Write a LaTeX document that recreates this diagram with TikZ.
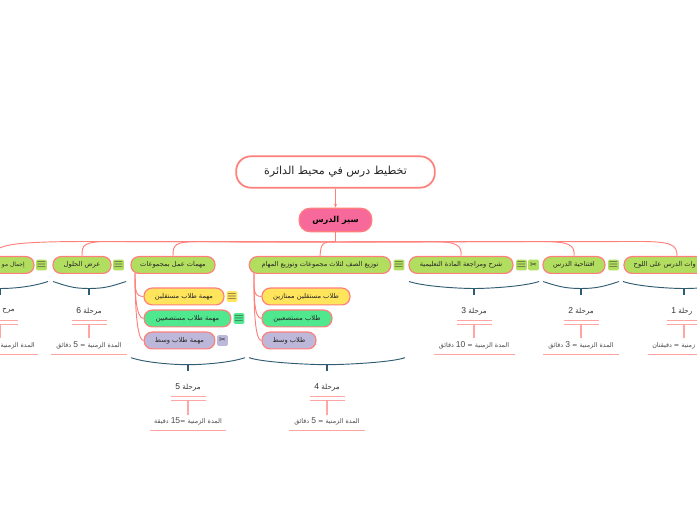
\documentclass[tikz,border=0pt]{standalone}
\usepackage{fontspec}
\setmainfont{Liberation Sans}
\newfontfamily\arabicfont[Script=Arabic]{DejaVu Sans}
\newfontfamily\symfont{DejaVu Sans}
\TeXXeTstate=1
\usepackage{tikz}
\usetikzlibrary{arrows.meta, positioning}
\definecolor{linered}{HTML}{FF7F7B}
\definecolor{softred}{HTML}{FFA5A2}
\definecolor{stemblue}{HTML}{2F5C73}
\definecolor{leafgreen}{HTML}{B2DE60}
\definecolor{lessonpink}{HTML}{F8699B}
\definecolor{iconyellow}{HTML}{FFE45C}
\definecolor{iconmint}{HTML}{4FE88F}
\definecolor{iconlilac}{HTML}{BDB8DA}
\newcommand{\ar}[1]{{\arabicfont\beginR #1\endR}}
\newcommand{\nm}[1]{\beginL{\rmfamily\fontsize{6.4}{7}\selectfont #1}\endL}
\newcommand{\cut}{{\symfont\fontsize{6}{6}\selectfont ✂}}
\tikzset{
  box/.style={draw=linered, line width=0.9pt, rounded corners=6pt, minimum height=12.6pt, inner sep=0pt, font=\fontsize{5}{6}\selectfont, text=black!85},
  task/.style={box, fill=leafgreen},
  ylw/.style={box, fill=iconyellow},
  mnt/.style={box, fill=iconmint},
  lil/.style={box, fill=iconlilac},
  icon/.style={minimum size=8pt, inner sep=0pt, rounded corners=1pt, font=\fontsize{9}{9}\selectfont, text=black!80},
  link/.style={draw=linered, line width=0.7pt},
  lab/.style={inner sep=0pt, font=\fontsize{5}{6}\selectfont, text=black!85},
  stage/.style={inner sep=0pt, font=\fontsize{5.3}{6}\selectfont, text=black!80},
  dur/.style={inner sep=0pt, font=\fontsize{4.8}{6}\selectfont, text=black!70},
  rule/.style={draw=softred, line width=1pt},
  brace/.style={draw=stemblue, line width=0.7pt}
}
\begin{document}
\begin{tikzpicture}[x=0.75pt, y=-0.75pt]
  \useasboundingbox (0,0) rectangle (697,520);
  \clip (0,0) rectangle (697,520);
  % top of the map
  \node[box, fill=white, line width=1.3pt, rounded corners=11pt, minimum width=149pt, minimum height=23.5pt, font=\fontsize{8.3}{10}\selectfont] (title) at (335.5,172) {\ar{تخطيط درس في محيط الدائرة}};
  \node[box, fill=lessonpink, minimum width=54.5pt, minimum height=17.5pt, rounded corners=8pt, font=\fontsize{6.2}{7}\selectfont\bfseries, text=black] (lesson) at (335.5,220) {\ar{سير الدرس}};
  \draw[link, -{Stealth[length=3pt]}] (title) -- (lesson);
  \coordinate (trunk) at (335.5,242);
  \draw[link] (lesson.south) -- (trunk);
  % main tasks
  \node[task, minimum width=79.5pt] (t1) at (677,265) {};
  \node[lab, anchor=east] (t1txt) at (696,265) {\ar{وات الدرس على اللوح}};
  \node[task, minimum width=46.5pt] (t2) at (574,265) {\ar{افتتاحية الدرس}};
  \node[task, minimum width=78pt] (t3) at (461,265) {\ar{شرح ومراجعة المادة التعليمية}};
  \node[task, minimum width=106pt] (t4) at (320,265) {\ar{توزيع الصف لثلاث مجموعات  وتوزيع المهام}};
  \node[task, minimum width=63pt] (t5) at (173,265) {\ar{مهمات عمل بمجموعات}};
  \node[task, minimum width=43.5pt] (t6) at (82,265) {\ar{عرض الحلول}};
  \node[task, minimum width=60pt] (t7) at (-6,265) {};
  \node[lab, anchor=east, font=\fontsize{4.4}{6}\selectfont] (t7txt) at (25,265) {\ar{إجمال مو}};
  \foreach \t/\ca/\cb/\cc in {t1/640/672/677,t2/540/570/575,t3/430/457/462,t4/335/321/321,t5/200/174/173,t6/110/83/82,t7/90/10/-6} {
    \draw[link] (trunk) -- (\ca,241.5) .. controls (\cb,241.5) and (\cc,245) .. (\t.north);
  }
  % icons beside the tasks
  \node[icon, fill=leafgreen] (i1) at (613.5,265) {$\equiv$};
  \node[icon, fill=leafgreen] (i2) at (533.5,265) {\cut};
  \node[icon, fill=leafgreen] (i3) at (521.5,265) {$\equiv$};
  \node[icon, fill=leafgreen] (i4) at (399,265) {$\equiv$};
  \node[icon, fill=leafgreen] (i5) at (118.5,265) {$\equiv$};
  \node[icon, fill=leafgreen] (i6) at (41.5,265) {$\equiv$};
  % sub tasks
  \node[ylw, minimum width=66pt] (a1) at (306,296.5) {\ar{طلاب مستقلين ممتازين}};
  \node[mnt, minimum width=52.5pt] (a2) at (297,318.5) {\ar{طلاب مستصعبين}};
  \node[lil, minimum width=40.5pt] (a3) at (289,340.5) {\ar{طلاب وسط}};
  \node[ylw, minimum width=60pt] (b1) at (184,296.5) {\ar{مهمة طلاب مستقلين}};
  \node[mnt, minimum width=65pt] (b2) at (187.5,318.5) {\ar{مهمة طلاب مستصعبين}};
  \node[lil, minimum width=53pt] (b3) at (179.5,340.5) {\ar{مهمة طلاب وسط}};
  \node[icon, fill=iconyellow] (i7) at (232,296.5) {$\equiv$};
  \node[icon, fill=iconmint] (i8) at (239,318.5) {$\equiv$};
  \node[icon, fill=iconlilac] (i9) at (222.5,340.5) {\cut};
  \foreach \k in {a1,a2,a3} {
    \draw[link] (254,273.5) .. controls (254,290) and ([xshift=-6pt]\k.west) .. (\k.west);
  }
  \foreach \k in {b1,b2,b3} {
    \draw[link] (135,273.5) .. controls (135,290) and ([xshift=-6pt]\k.west) .. (\k.west);
  }
  % stages under the tasks
  \foreach \n/\lx/\cx/\rx/\y/\hw/\sa/\sx/\da/\dx/\stxt/\dtxt in {
    1/623/684/745/281.5/36/west/671/west/652/{رحلة \nm{1}}/{زمنية = دقيقتان},
    2/543/581/619/281.5/38/center/581/center/581/{مرحلة \nm{2}}/{المدة الزمنية = \nm{3} دقائق},
    3/409/474/539/281.5/40.5/center/474/center/474/{مرحلة \nm{3}}/{المدة الزمنية = \nm{10} دقائق},
    4/249/327/405/357.7/38/center/327/center/327/{مرحلة \nm{4}}/{المدة الزمنية = \nm{5} دقائق},
    5/131/188/245/357.7/38/center/188/center/188/{مرحلة \nm{5}}/{المدة الزمنية =\nm{15} دقيقة},
    6/53/89/126/281.5/38/center/89/center/89/{مرحلة \nm{6}}/{المدة الزمنية = \nm{5} دقائق},
    7/-48/0/48/281.5/38/east/15/east/35/{مرح}/{المدة الزمنية}} {
    \coordinate (low\n) at (\cx,\y+7);
    \coordinate (end\n) at (\cx,\y+13.5);
    \draw[brace] (\lx,\y) .. controls (\lx+15,\y+5) and (\cx-15,\y+7) .. (low\n) .. controls (\cx+15,\y+7) and (\rx-15,\y+5) .. (\rx,\y);
    \draw[brace, line width=1pt] (low\n) -- (end\n);
    \node[stage, anchor=\sa] (s\n) at (\sx,\y+29.5) {\ar{\stxt}};
    \draw[rule] (\cx-17.5,\y+39) -- (\cx+17.5,\y+39);
    \draw[rule] (\cx-17.5,\y+43) -- (\cx+17.5,\y+43);
    \coordinate (rr\n) at (\cx,\y+43);
    \node[dur, anchor=\da] (d\n) at (\dx,\y+64) {\ar{\dtxt}};
    \coordinate (dd\n) at (\cx,\y+57);
    \draw[rule] (rr\n) -- (dd\n);
    \draw[rule] (\cx-\hw,\y+73) -- (\cx+\hw,\y+73);
  }
\end{tikzpicture}
\end{document}
